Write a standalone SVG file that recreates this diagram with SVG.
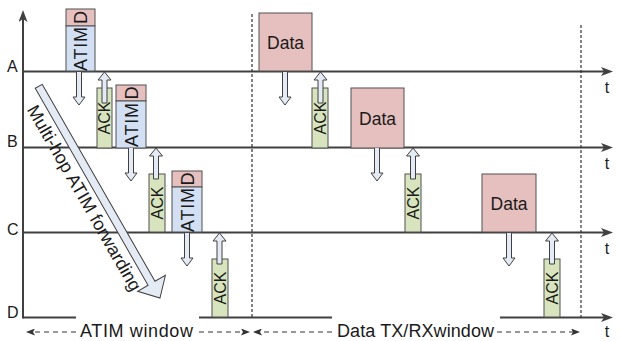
<svg xmlns="http://www.w3.org/2000/svg" width="621" height="341" viewBox="0 0 621 341">
<style>
  text { font-family: "Liberation Sans", Arial, sans-serif; fill: #1a1a1a; }
  .line { stroke: #404040; stroke-width: 2; fill: none; }
  .vdash { stroke: #333; stroke-width: 1.2; stroke-dasharray: 3 2; fill: none; }
  .hdash { stroke: #333; stroke-width: 1.2; stroke-dasharray: 5 4; fill: none; }
  .atim { fill: #d3dff2; stroke: #505050; stroke-width: 1; }
  .pink { fill: #e6c0be; stroke: #505050; stroke-width: 1; }
  .ack { fill: #d7e4bd; stroke: #505050; stroke-width: 1; }
  .barrow { fill: #e4ebf5; stroke: #404040; stroke-width: 1; }
  .lbl { font-size: 16px; }
  .tl { font-size: 16px; text-anchor: middle; }
  .vt { font-size: 18px; text-anchor: middle; }
  .ak { font-size: 16px; text-anchor: middle; }
  .dt { font-size: 17.5px; text-anchor: middle; }
  .win { font-size: 18px; text-anchor: middle; }
  .diag { font-size: 18px; }
</style>
<defs>
  <marker id="ah" markerUnits="userSpaceOnUse" markerWidth="12" markerHeight="9" refX="4" refY="4.5" orient="auto">
    <path d="M0,0 L12,4.5 L0,9 L3,4.5 Z" fill="#404040"/>
  </marker>
  <marker id="dh" markerUnits="userSpaceOnUse" markerWidth="9" markerHeight="7" refX="3" refY="3.5" orient="auto">
    <path d="M0,0 L9,3.5 L0,7 L2,3.5 Z" fill="#333"/>
  </marker>
  <path id="down" d="M-2.5,0 V25 H-6 L0,33 L6,25 H2.5 V0"/>
  <path id="up" d="M-2.5,32 V9 H-6.5 L0,1 L6.5,9 H2.5 V32 Z"/>
</defs>

<g id="timelines">
  <path class="line" d="M23,318.5 V18" marker-end="url(#ah)"/>
  <path class="line" d="M23,71.5 H605" marker-end="url(#ah)"/>
  <path class="line" d="M23,147.5 H605" marker-end="url(#ah)"/>
  <path class="line" d="M23,232.5 H605" marker-end="url(#ah)"/>
  <path class="line" d="M23,317.5 H76 M199,317.5 H332"/>
  <path class="line" d="M500,317.5 H605" marker-end="url(#ah)"/>
  <path class="vdash" d="M252,14 V318"/>
  <path class="vdash" d="M581,25 V318"/>
  <text class="lbl" x="7" y="72">A</text>
  <text class="lbl" x="7" y="147">B</text>
  <text class="lbl" x="7" y="235">C</text>
  <text class="lbl" x="7" y="318">D</text>
  <text class="tl" x="607" y="92.5">t</text>
  <text class="tl" x="607" y="168.5">t</text>
  <text class="tl" x="607" y="253.5">t</text>
  <text class="tl" x="607" y="337">t</text>
</g>

<g id="windows">
  <path class="hdash" d="M76,332 H32" marker-end="url(#dh)"/>
  <path class="hdash" d="M199,332 H244" marker-end="url(#dh)"/>
  <path class="hdash" d="M332,332 H259" marker-end="url(#dh)"/>
  <path class="hdash" d="M497,332 H574" marker-end="url(#dh)"/>
  <text class="win" x="136.5" y="337" textLength="113">ATIM window</text>
  <text class="win" x="415.5" y="337" textLength="157">Data TX/RXwindow</text>
</g>

<g id="atimA">
  <rect class="pink" x="66" y="9" width="29" height="17"/>
  <rect class="atim" x="66" y="26" width="29" height="45"/>
  <text class="vt" transform="translate(80.5,17.5) rotate(-90)" y="6.5">D</text>
  <text class="vt" transform="translate(80.5,49) rotate(-90)" y="6.5" textLength="44">ATIM</text>
</g>
<g id="atimB">
  <rect class="pink" x="116" y="85" width="30" height="16"/>
  <rect class="atim" x="116" y="101" width="30" height="47"/>
  <text class="vt" transform="translate(131,93) rotate(-90)" y="6.5">D</text>
  <text class="vt" transform="translate(131,125) rotate(-90)" y="6.5" textLength="44">ATIM</text>
</g>
<g id="atimC">
  <rect class="pink" x="172" y="171" width="30" height="16"/>
  <rect class="atim" x="172" y="187" width="30" height="45"/>
  <text class="vt" transform="translate(187,179) rotate(-90)" y="6.5">D</text>
  <text class="vt" transform="translate(187,210) rotate(-90)" y="6.5" textLength="44">ATIM</text>
</g>

<g id="ackB1">
  <rect class="ack" x="97" y="88" width="15" height="60"/>
  <text class="ak" transform="translate(104.5,118) rotate(-90)" y="5.7" textLength="33">ACK</text>
</g>
<g id="ackC1">
  <rect class="ack" x="149" y="174" width="16" height="58"/>
  <text class="ak" transform="translate(157,203) rotate(-90)" y="5.7" textLength="33">ACK</text>
</g>
<g id="ackD1">
  <rect class="ack" x="212" y="259" width="16" height="58"/>
  <text class="ak" transform="translate(220,288) rotate(-90)" y="5.7" textLength="33">ACK</text>
</g>

<g id="dataA">
  <rect class="pink" x="259" y="13" width="53" height="58"/>
  <text class="dt" x="285.5" y="48.5" textLength="37">Data</text>
</g>
<g id="dataB">
  <rect class="pink" x="351" y="88" width="53" height="60"/>
  <text class="dt" x="377.5" y="124.5" textLength="37">Data</text>
</g>
<g id="dataC">
  <rect class="pink" x="482" y="174" width="54" height="58"/>
  <text class="dt" x="509" y="209.5" textLength="37">Data</text>
</g>

<g id="ackB2">
  <rect class="ack" x="312" y="88" width="16" height="60"/>
  <text class="ak" transform="translate(320,118) rotate(-90)" y="5.7" textLength="33">ACK</text>
</g>
<g id="ackC2">
  <rect class="ack" x="405" y="174" width="16" height="58"/>
  <text class="ak" transform="translate(413,203) rotate(-90)" y="5.7" textLength="33">ACK</text>
</g>
<g id="ackD2">
  <rect class="ack" x="544" y="259" width="16" height="58"/>
  <text class="ak" transform="translate(552,288) rotate(-90)" y="5.7" textLength="33">ACK</text>
</g>

<g id="connectors">
  <use href="#down" class="barrow" transform="translate(79,72)"/>
  <use href="#down" class="barrow" transform="translate(131,148)"/>
  <use href="#down" class="barrow" transform="translate(187,233)"/>
  <use href="#down" class="barrow" transform="translate(285,72)"/>
  <use href="#down" class="barrow" transform="translate(377,148)"/>
  <use href="#down" class="barrow" transform="translate(509,233)"/>
  <use href="#up" class="barrow" transform="translate(104.5,71)"/>
  <use href="#up" class="barrow" transform="translate(156,147)"/>
  <use href="#up" class="barrow" transform="translate(219.5,232)"/>
  <use href="#up" class="barrow" transform="translate(320.5,71)"/>
  <use href="#up" class="barrow" transform="translate(413,147)"/>
  <use href="#up" class="barrow" transform="translate(552,232)"/>
  <g id="multihop" transform="translate(38.7,86.3) rotate(60.2)">
    <path class="barrow" d="M0,-4 L227,-4 L227,-16 L244,0 L227,16 L227,4 L0,4 Z"/>
    <text class="diag" x="14" y="22" textLength="211">Multi-hop ATIM forwarding</text>
  </g>
</g>
</svg>
